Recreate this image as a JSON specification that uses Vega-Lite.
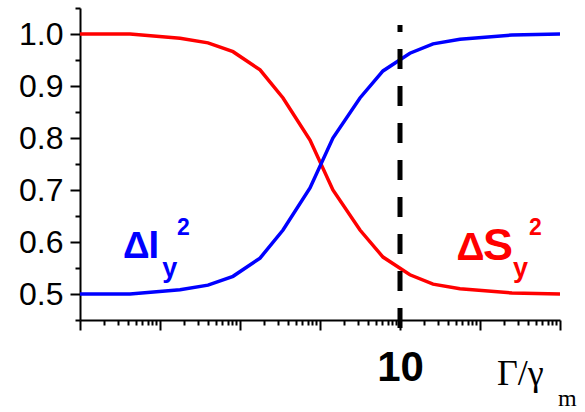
{
  "$schema": "https://vega.github.io/schema/vega-lite/v6.json",
  "autosize": "none",
  "width": 480,
  "height": 312,
  "padding": {"left": 80, "top": 8, "right": 25, "bottom": 92},
  "background": "white",
  "config": {
    "view": {"stroke": null},
    "font": "Liberation Sans",
    "axis": {
      "grid": false,
      "domainColor": "black",
      "domainWidth": 2,
      "tickColor": "black",
      "tickWidth": 2,
      "labelColor": "black",
      "labelFont": "Liberation Sans",
      "labelOverlap": false,
      "title": null
    }
  },
  "datasets": {
    "curves": [
      {"g": 0.001, "value": 1.0, "series": "S"},
      {"g": 0.00422, "value": 1.0, "series": "S"},
      {"g": 0.0178, "value": 0.992, "series": "S"},
      {"g": 0.0398, "value": 0.983, "series": "S"},
      {"g": 0.0818, "value": 0.966, "series": "S"},
      {"g": 0.178, "value": 0.931, "series": "S"},
      {"g": 0.345, "value": 0.877, "series": "S"},
      {"g": 0.75, "value": 0.796, "series": "S"},
      {"g": 1.45, "value": 0.7, "series": "S"},
      {"g": 3.16, "value": 0.623, "series": "S"},
      {"g": 6.13, "value": 0.571, "series": "S"},
      {"g": 13.3, "value": 0.537, "series": "S"},
      {"g": 25.9, "value": 0.519, "series": "S"},
      {"g": 56.2, "value": 0.51, "series": "S"},
      {"g": 251, "value": 0.502, "series": "S"},
      {"g": 1000, "value": 0.5, "series": "S"},
      {"g": 0.001, "value": 0.5, "series": "I"},
      {"g": 0.00422, "value": 0.5, "series": "I"},
      {"g": 0.0178, "value": 0.508, "series": "I"},
      {"g": 0.0398, "value": 0.517, "series": "I"},
      {"g": 0.0818, "value": 0.534, "series": "I"},
      {"g": 0.178, "value": 0.569, "series": "I"},
      {"g": 0.345, "value": 0.623, "series": "I"},
      {"g": 0.75, "value": 0.704, "series": "I"},
      {"g": 1.45, "value": 0.8, "series": "I"},
      {"g": 3.16, "value": 0.877, "series": "I"},
      {"g": 6.13, "value": 0.929, "series": "I"},
      {"g": 13.3, "value": 0.963, "series": "I"},
      {"g": 25.9, "value": 0.981, "series": "I"},
      {"g": 56.2, "value": 0.99, "series": "I"},
      {"g": 251, "value": 0.998, "series": "I"},
      {"g": 1000, "value": 1.0, "series": "I"}
    ],
    "marker": [
      {"g": 10, "from": 0.4346, "to": 1.0173}
    ],
    "labels": [
      {"part": "deltaI", "series": "I", "g": 0.00345, "value": 0.5692, "text": "Δ"},
      {"part": "mainI", "series": "I", "g": 0.0072, "value": 0.5692, "text": "I"},
      {"part": "sub", "series": "I", "g": 0.0107, "value": 0.5327, "text": "y"},
      {"part": "sup", "series": "I", "g": 0.0163, "value": 0.6135, "text": "2"},
      {"part": "deltaS", "series": "S", "g": 50.8, "value": 0.5654, "text": "Δ"},
      {"part": "mainS", "series": "S", "g": 109.0, "value": 0.5663, "text": "S"},
      {"part": "sub", "series": "S", "g": 258, "value": 0.5327, "text": "y"},
      {"part": "sup", "series": "S", "g": 410, "value": 0.6135, "text": "2"}
    ],
    "xtitle": [
      {"part": "ratio", "g": 163, "value": 0.325, "text": "Γ/γ"},
      {"part": "index", "g": 944, "value": 0.284, "text": "m"}
    ]
  },
  "encoding": {
    "x": {
      "field": "g",
      "type": "quantitative",
      "scale": {"type": "log", "domain": [0.001, 1000], "nice": false},
      "axis": {
        "values": [0.001, 0.002, 0.003, 0.004, 0.005, 0.006, 0.007, 0.008, 0.009,
                   0.01, 0.02, 0.03, 0.04, 0.05, 0.06, 0.07, 0.08, 0.09,
                   0.1, 0.2, 0.3, 0.4, 0.5, 0.6, 0.7, 0.8, 0.9,
                   1, 2, 3, 4, 5, 6, 7, 8, 9,
                   10, 20, 30, 40, 50, 60, 70, 80, 90,
                   100, 200, 300, 400, 500, 600, 700, 800, 900, 1000],
        "tickSize": {"condition": {"test": "indexof([0.001, 0.01, 0.1, 1, 10, 100, 1000], datum.value) >= 0", "value": 10}, "value": 5},
        "labelExpr": "datum.value === 10 ? '10' : ''",
        "labelFontSize": 42,
        "labelFontWeight": "bold",
        "labelPadding": 17,
        "labelFlush": false
      }
    },
    "y": {
      "field": "value",
      "type": "quantitative",
      "scale": {"domain": [0.45, 1.05], "nice": false, "zero": false},
      "axis": {
        "values": [0.45, 0.5, 0.55, 0.6, 0.65, 0.7, 0.75, 0.8, 0.85, 0.9, 0.95, 1.0, 1.05],
        "tickSize": {"condition": {"test": "abs(datum.value * 10 - round(datum.value * 10)) < 0.001", "value": 10}, "value": 5},
        "labelExpr": "abs(datum.value * 10 - round(datum.value * 10)) < 0.001 ? format(datum.value, '.1f') : ''",
        "labelFontSize": 32,
        "labelPadding": 7
      }
    },
    "color": {
      "field": "series",
      "type": "nominal",
      "scale": {"domain": ["I", "S"], "range": ["#0000ff", "#ff0000"]},
      "legend": null
    }
  },
  "layer": [
    {
      "data": {"name": "curves"},
      "mark": {"type": "line", "strokeWidth": 3.5, "clip": true},
      "encoding": {"order": {"field": "g", "type": "quantitative"}}
    },
    {
      "data": {"name": "marker"},
      "mark": {"type": "rule", "color": "black", "strokeWidth": 5, "strokeDash": [20, 17]},
      "encoding": {
        "y": {"field": "from", "type": "quantitative"},
        "y2": {"field": "to"},
        "color": {"value": "black"}
      }
    },
    {
      "data": {"name": "labels"},
      "transform": [{"filter": "datum.part === 'deltaI'"}],
      "mark": {"type": "text", "fontSize": 37, "fontWeight": "bold", "align": "left", "baseline": "alphabetic"},
      "encoding": {"text": {"field": "text"}}
    },
    {
      "data": {"name": "labels"},
      "transform": [{"filter": "datum.part === 'mainI'"}],
      "mark": {"type": "text", "fontSize": 38, "fontWeight": "bold", "align": "left", "baseline": "alphabetic"},
      "encoding": {"text": {"field": "text"}}
    },
    {
      "data": {"name": "labels"},
      "transform": [{"filter": "datum.part === 'deltaS'"}],
      "mark": {"type": "text", "fontSize": 39, "fontWeight": "bold", "align": "left", "baseline": "alphabetic"},
      "encoding": {"text": {"field": "text"}}
    },
    {
      "data": {"name": "labels"},
      "transform": [{"filter": "datum.part === 'mainS'"}],
      "mark": {"type": "text", "fontSize": 45, "fontWeight": "bold", "align": "left", "baseline": "alphabetic"},
      "encoding": {"text": {"field": "text"}}
    },
    {
      "data": {"name": "labels"},
      "transform": [{"filter": "datum.part === 'sub'"}],
      "mark": {"type": "text", "fontSize": 27, "fontWeight": "bold", "align": "left", "baseline": "alphabetic"},
      "encoding": {"text": {"field": "text"}}
    },
    {
      "data": {"name": "labels"},
      "transform": [{"filter": "datum.part === 'sup'"}],
      "mark": {"type": "text", "fontSize": 23, "fontWeight": "bold", "align": "left", "baseline": "alphabetic"},
      "encoding": {"text": {"field": "text"}}
    },
    {
      "data": {"name": "xtitle"},
      "transform": [{"filter": "datum.part === 'ratio'"}],
      "mark": {"type": "text", "font": "Liberation Serif", "fontSize": 36, "align": "left", "baseline": "alphabetic"},
      "encoding": {"text": {"field": "text"}, "color": {"value": "black"}}
    },
    {
      "data": {"name": "xtitle"},
      "transform": [{"filter": "datum.part === 'index'"}],
      "mark": {"type": "text", "font": "Liberation Serif", "fontSize": 24, "align": "left", "baseline": "alphabetic"},
      "encoding": {"text": {"field": "text"}, "color": {"value": "black"}}
    }
  ]
}
